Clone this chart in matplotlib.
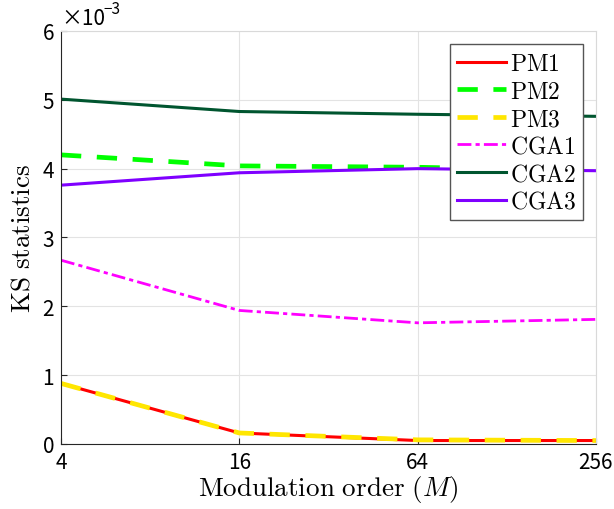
import numpy as np
import matplotlib.pyplot as plt

plt.rcParams['mathtext.fontset'] = 'cm'

# Data (KS statistics, in units of 1e-3)
M = np.array([4, 16, 64, 256])
pm1 = np.array([0.88, 0.16, 0.05, 0.05])
pm2 = np.array([4.20, 4.04, 4.02, 3.97])
pm3 = np.array([0.88, 0.16, 0.06, 0.05])
cga1 = np.array([2.67, 1.94, 1.76, 1.81])
cga2 = np.array([5.01, 4.83, 4.79, 4.76])
cga3 = np.array([3.76, 3.94, 4.00, 3.97])

tick_font = 'Noto Sans CJK JP'

fig = plt.figure(figsize=(6.14, 5.10), dpi=100)
ax = fig.add_axes([0.0993, 0.1275, 0.8713, 0.8098])

ax.plot(M, pm1, color='#ff0000', lw=2.2, label=r'$\mathrm{PM1}$')
ax.plot(M, pm2, color='#00ff00', lw=3.4, ls=(0, (4.3, 3.3)), label=r'$\mathrm{PM2}$')
ax.plot(M, pm3, color='#ffe600', lw=3.4, ls=(0, (4.3, 3.3)), label=r'$\mathrm{PM3}$')
ax.plot(M, cga1, color='#ff00ff', lw=2.0, ls=(0, (5, 1.5, 1.5, 1.5)), label=r'$\mathrm{CGA1}$')
ax.plot(M, cga2, color='#00552f', lw=2.2, label=r'$\mathrm{CGA2}$')
ax.plot(M, cga3, color='#7f00ff', lw=2.2, label=r'$\mathrm{CGA3}$')

ax.set_xscale('log', base=2)
ax.set_xlim(4, 256)
ax.set_ylim(0, 6)
ax.set_xticks(M)
ax.set_xticklabels([str(m) for m in M], family=tick_font, fontsize=15)
ax.set_yticks(range(7))
ax.set_yticklabels([str(v) for v in range(7)], family=tick_font, fontsize=15)
ax.minorticks_off()
ax.tick_params(direction='in', length=4, color='#262626', pad=5)

ax.grid(True, color='#e3e3e3', lw=0.8)
ax.set_axisbelow(True)
for s in ['top', 'right']:
    ax.spines[s].set_color('#d9d9d9')
for s in ['left', 'bottom']:
    ax.spines[s].set_color('#262626')

ax.set_xlabel(r'$\mathrm{Modulation\ order\ }(M)$', fontsize=19.5, labelpad=0)
ax.set_ylabel(r'$\mathrm{KS\ statistics}$', fontsize=19.5, labelpad=5)

ax.text(0.0, 1.005, '×10', transform=ax.transAxes, family=tick_font,
        fontsize=15, ha='left', va='bottom')
ax.text(0.079, 1.035, '−3', transform=ax.transAxes, family=tick_font,
        fontsize=11, ha='left', va='bottom')

leg = ax.legend(loc='upper right', bbox_to_anchor=(0.976, 0.9685), fontsize=17,
                frameon=True, fancybox=False, framealpha=1, edgecolor='#555555',
                handlelength=2.08, handletextpad=0.15, labelspacing=0.15,
                borderpad=0.3, borderaxespad=0)
leg.get_frame().set_linewidth(1.0)

fig.savefig('out.png', dpi=100)
